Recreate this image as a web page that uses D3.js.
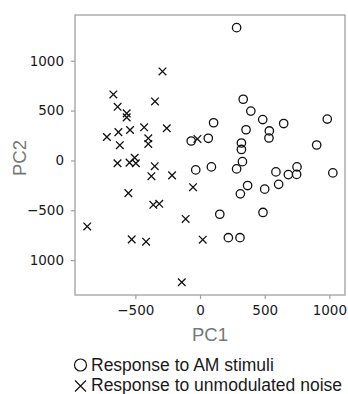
<!DOCTYPE html>
<html>
<head>
<meta charset="utf-8">
<script src="https://cdn.jsdelivr.net/npm/d3@7"></script>
<style>
  html, body { margin: 0; padding: 0; background: #fff; }
  svg { display: block; }
</style>
</head>
<body>
<svg id="chart" width="348" height="394"></svg>
<script>
// ---- data ----
const amPC1 = [283, 334, 393, 485, 647, 984, 105, 356, 536, 533, -68, 64, 320, 320, 328, 283,
               -33, 88, 587, 683, 750, 747, 1027, 902, 368, 312, 500, 608, 153, 487, 219, 309];
const amPC2 = [1332, 614, 495, 410, 370, 415, 378, 308, 296, 225, 195, 222, 175, 110, -12, -85,
               -95, -65, -115, -142, -65, -140, -125, 155, -252, -335, -288, -240, -540, -522, -775, -775];
const noisePC1 = [-670, -637, -567, -567, -348, -290, -432, -257, -720, -631, -541, -620, -400, -400, -638, -545,
                  -505, -496, -350, -376, -216, -20, -54, -554, -361, -315, -111, -872, -528, -417, 21, -141];
const noisePC2 = [662, 538, 472, 432, 592, 893, 332, 323, 235, 284, 305, 153, 222, 166, -28, -22,
                  27, -28, -58, -158, -150, 216, -268, -328, -445, -435, -587, -662, -792, -815, -795, -1222];
const xTickValues = [-500, 0, 500, 1000];
const xTickLabels = ["\u2212500", "0", "500", "1000"];
const yTickValues = [1000, 500, 0, -500, -1000];
const yTickLabels = ["1000", "500", "0", "\u2212500", "1000"];
const xTitle = "PC1";
const yTitle = "PC2";
const legendLabels = ["Response to AM stimuli", "Response to unmodulated noise"];

// ---- layout ----
const svg = d3.select("#chart");
const plot = { left: 75, top: 15, right: 345, bottom: 295 };
const x = d3.scaleLinear().domain([-966.5, 1121]).range([plot.left, plot.right]);
const y = d3.scaleLinear().domain([-1350, 1459]).range([plot.bottom, plot.top]);
const frameColor = "#a0a0a0";
const tickFont = "'DejaVu Sans', sans-serif";
const labelFont = "'Liberation Sans', Arial, sans-serif";

// frame
svg.append("rect")
  .attr("x", plot.left).attr("y", plot.top)
  .attr("width", plot.right - plot.left).attr("height", plot.bottom - plot.top)
  .attr("fill", "none").attr("stroke", frameColor).attr("stroke-width", 1.3);

// axes
const xAxis = d3.axisBottom(x).tickValues(xTickValues)
  .tickFormat((d, i) => xTickLabels[i]).tickSize(4).tickPadding(6);
const yAxis = d3.axisLeft(y).tickValues(yTickValues)
  .tickFormat((d, i) => yTickLabels[i]).tickSize(4).tickPadding(7);

const gx = svg.append("g").attr("transform", `translate(0,${plot.bottom})`).call(xAxis);
const gy = svg.append("g").attr("transform", `translate(${plot.left},0)`).call(yAxis);
[gx, gy].forEach(g => {
  g.select(".domain").remove();
  g.selectAll(".tick line").attr("stroke", frameColor).attr("stroke-width", 1.2);
  g.selectAll(".tick text").attr("fill", "#1a1a1a")
    .style("font-family", tickFont).style("font-size", "13.5px");
});

// axis titles
svg.append("text").attr("x", 210).attr("y", 341)
  .attr("text-anchor", "middle").attr("fill", "#777")
  .style("font-family", labelFont).style("font-size", "18.5px").text(xTitle);
svg.append("text").attr("transform", "translate(26,158) rotate(-90)")
  .attr("text-anchor", "middle").attr("fill", "#777")
  .style("font-family", labelFont).style("font-size", "18.5px").text(yTitle);

// points
const am = amPC1.map((v, i) => ({ x: v, y: amPC2[i] }));
const noise = noisePC1.map((v, i) => ({ x: v, y: noisePC2[i] }));

svg.append("g").selectAll("circle").data(am).join("circle")
  .attr("cx", d => x(d.x)).attr("cy", d => y(d.y)).attr("r", 4.2)
  .attr("fill", "none").attr("stroke", "#111").attr("stroke-width", 1.3);

const s = 3.8;
svg.append("g").selectAll("path").data(noise).join("path")
  .attr("d", d => {
    const cx = x(d.x), cy = y(d.y);
    return `M${cx - s},${cy - s}L${cx + s},${cy + s}M${cx - s},${cy + s}L${cx + s},${cy - s}`;
  })
  .attr("fill", "none").attr("stroke", "#111").attr("stroke-width", 1.3);

// legend
const leg = svg.append("g");
leg.append("circle").attr("cx", 80.5).attr("cy", 365).attr("r", 6)
  .attr("fill", "none").attr("stroke", "#111").attr("stroke-width", 1.2);
leg.append("path").attr("d", "M75,380.5L86,391.5M75,391.5L86,380.5")
  .attr("fill", "none").attr("stroke", "#111").attr("stroke-width", 1.2);
leg.selectAll("text").data(legendLabels).join("text")
  .attr("x", 91).attr("y", (d, i) => 371 + i * 19.5)
  .attr("fill", "#1a1a1a")
  .style("font-family", labelFont).style("font-size", "17.5px")
  .text(d => d);
</script>
</body>
</html>
